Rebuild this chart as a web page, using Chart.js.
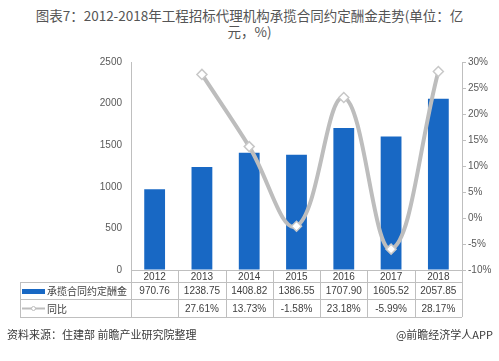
<!DOCTYPE html>
<html>
<head>
<meta charset="utf-8">
<script src="https://cdn.jsdelivr.net/npm/chart.js@4"></script>
<style>
  body { margin: 0; background: #fff; width: 499px; height: 361px; overflow: hidden; position: relative; font-family: "Noto Sans CJK SC", sans-serif; }
  #chart { position: absolute; left: 0; top: 0; }
  .title { position: absolute; left: 0; width: 499px; text-align: center; font-size: 13.5px; color: #555; }
  .foot { position: absolute; top: 326px; font-size: 11px; color: #3a3a3a; }
</style>
</head>
<body>
<div class="title" style="top:5px;">图表7：2012-2018年工程招标代理机构承揽合同约定酬金走势(单位：亿</div>
<div class="title" style="top:21px;">元，%)</div>
<canvas id="chart" width="499" height="361"></canvas>
<div class="foot" style="left:7px;">资料来源：住建部 前瞻产业研究院整理</div>
<div class="foot" style="right:6px;">@前瞻经济学人APP</div>
<script>
// data
const years = ['2012', '2013', '2014', '2015', '2016', '2017', '2018'];
const fees = [970.76, 1238.75, 1408.82, 1386.55, 1707.90, 1605.52, 2057.85];
const growth = [null, 27.61, 13.73, -1.58, 23.18, -5.99, 28.17];
const feeLabel = '承揽合同约定酬金';
const growthLabel = '同比';

const barColor = '#1868c4';
const lineColor = '#bdbdbd';
const gridColor = '#bfbfbf';
const textColor = '#404040';

// draws the data table under the plot, columns taken from the x scale
const tablePlugin = {
    id: 'dataTable',
    afterDraw(chart) {
        const ctx = chart.ctx;
        const xs = chart.scales.x;
        const area = chart.chartArea;
        const left = area.left, right = area.right;
        const step = (right - left) / years.length;
        const tableLeft = 20;
        const r0 = area.bottom, r1 = 282, r2 = 299, r3 = 317;

        ctx.save();
        ctx.strokeStyle = gridColor;
        ctx.lineWidth = 1;
        ctx.beginPath();
        // horizontal lines
        ctx.moveTo(left, r0 + 0.5); ctx.lineTo(right, r0 + 0.5);
        ctx.moveTo(tableLeft, r1 + 0.5); ctx.lineTo(right, r1 + 0.5);
        ctx.moveTo(tableLeft, r2 + 0.5); ctx.lineTo(right, r2 + 0.5);
        ctx.moveTo(tableLeft, r3 + 0.5); ctx.lineTo(right, r3 + 0.5);
        // vertical lines
        ctx.moveTo(tableLeft + 0.5, r1); ctx.lineTo(tableLeft + 0.5, r3);
        for (let i = 0; i <= years.length; i++) {
            const x = Math.round(left + step * i) + 0.5;
            ctx.moveTo(x, r0); ctx.lineTo(x, r3);
        }
        ctx.stroke();

        ctx.fillStyle = textColor;
        ctx.textAlign = 'center';
        ctx.textBaseline = 'middle';
        ctx.font = '10px "Liberation Sans", "Noto Sans CJK SC", sans-serif';
        years.forEach((y, i) => {
            const cx = xs.getPixelForValue(i);
            ctx.fillText(y, cx, (r0 + r1) / 2 + 1);
            ctx.fillText(fees[i].toFixed(2), cx, (r1 + r2) / 2 + 1);
            if (growth[i] !== null) ctx.fillText(growth[i].toFixed(2) + '%', cx, (r2 + r3) / 2 + 1);
        });

        // legend keys in the label column
        ctx.fillStyle = barColor;
        ctx.fillRect(22, 289, 23, 5);
        ctx.strokeStyle = lineColor;
        ctx.lineWidth = 2;
        ctx.beginPath();
        ctx.moveTo(22, 308.5); ctx.lineTo(45, 308.5);
        ctx.stroke();
        ctx.fillStyle = '#fff';
        ctx.lineWidth = 1;
        ctx.beginPath();
        ctx.arc(33.5, 308.5, 2, 0, Math.PI * 2);
        ctx.fill(); ctx.stroke();

        ctx.fillStyle = textColor;
        ctx.textAlign = 'left';
        ctx.font = '10px "Noto Sans CJK SC", sans-serif';
        ctx.fillText(feeLabel, 47, (r1 + r2) / 2 + 1);
        ctx.fillText(growthLabel, 47, (r2 + r3) / 2 + 1);
        ctx.restore();
    }
};

new Chart(document.getElementById('chart'), {
    data: {
        labels: years,
        datasets: [
            {
                type: 'line',
                label: growthLabel,
                data: growth,
                yAxisID: 'y1',
                borderColor: lineColor,
                borderWidth: 4,
                tension: 0.4,
                pointStyle: 'rectRot',
                pointRadius: 5,
                pointBackgroundColor: '#fff',
                pointBorderColor: '#c8c8c8',
                pointBorderWidth: 1.5,
                order: 0
            },
            {
                type: 'bar',
                label: feeLabel,
                data: fees,
                yAxisID: 'y',
                backgroundColor: barColor,
                barPercentage: 0.44,
                categoryPercentage: 1,
                order: 1
            }
        ]
    },
    options: {
        responsive: false,
        animation: false,
        layout: { padding: { top: 62, bottom: 91, left: 0, right: 0 } },
        plugins: {
            legend: { display: false },
            tooltip: { enabled: false }
        },
        scales: {
            x: { display: false },
            y: {
                position: 'left',
                min: 0, max: 2500,
                ticks: { stepSize: 500, padding: 9, color: '#595959', font: { size: 10, family: '"Liberation Sans", sans-serif' }, callback: v => String(v) },
                grid: { drawOnChartArea: false, drawTicks: false },
                border: { display: true, color: gridColor },
                afterFit(scale) { scale.width = 131; }
            },
            y1: {
                position: 'right',
                min: -10, max: 30,
                ticks: { stepSize: 5, padding: 2, color: '#595959', font: { size: 10, family: '"Liberation Sans", sans-serif' }, callback: v => v + '%' },
                grid: { drawOnChartArea: false, drawTicks: true, tickLength: 4, color: gridColor },
                border: { display: true, color: gridColor },
                afterFit(scale) { scale.width = 37; }
            }
        }
    },
    plugins: [tablePlugin]
});
</script>
</body>
</html>
